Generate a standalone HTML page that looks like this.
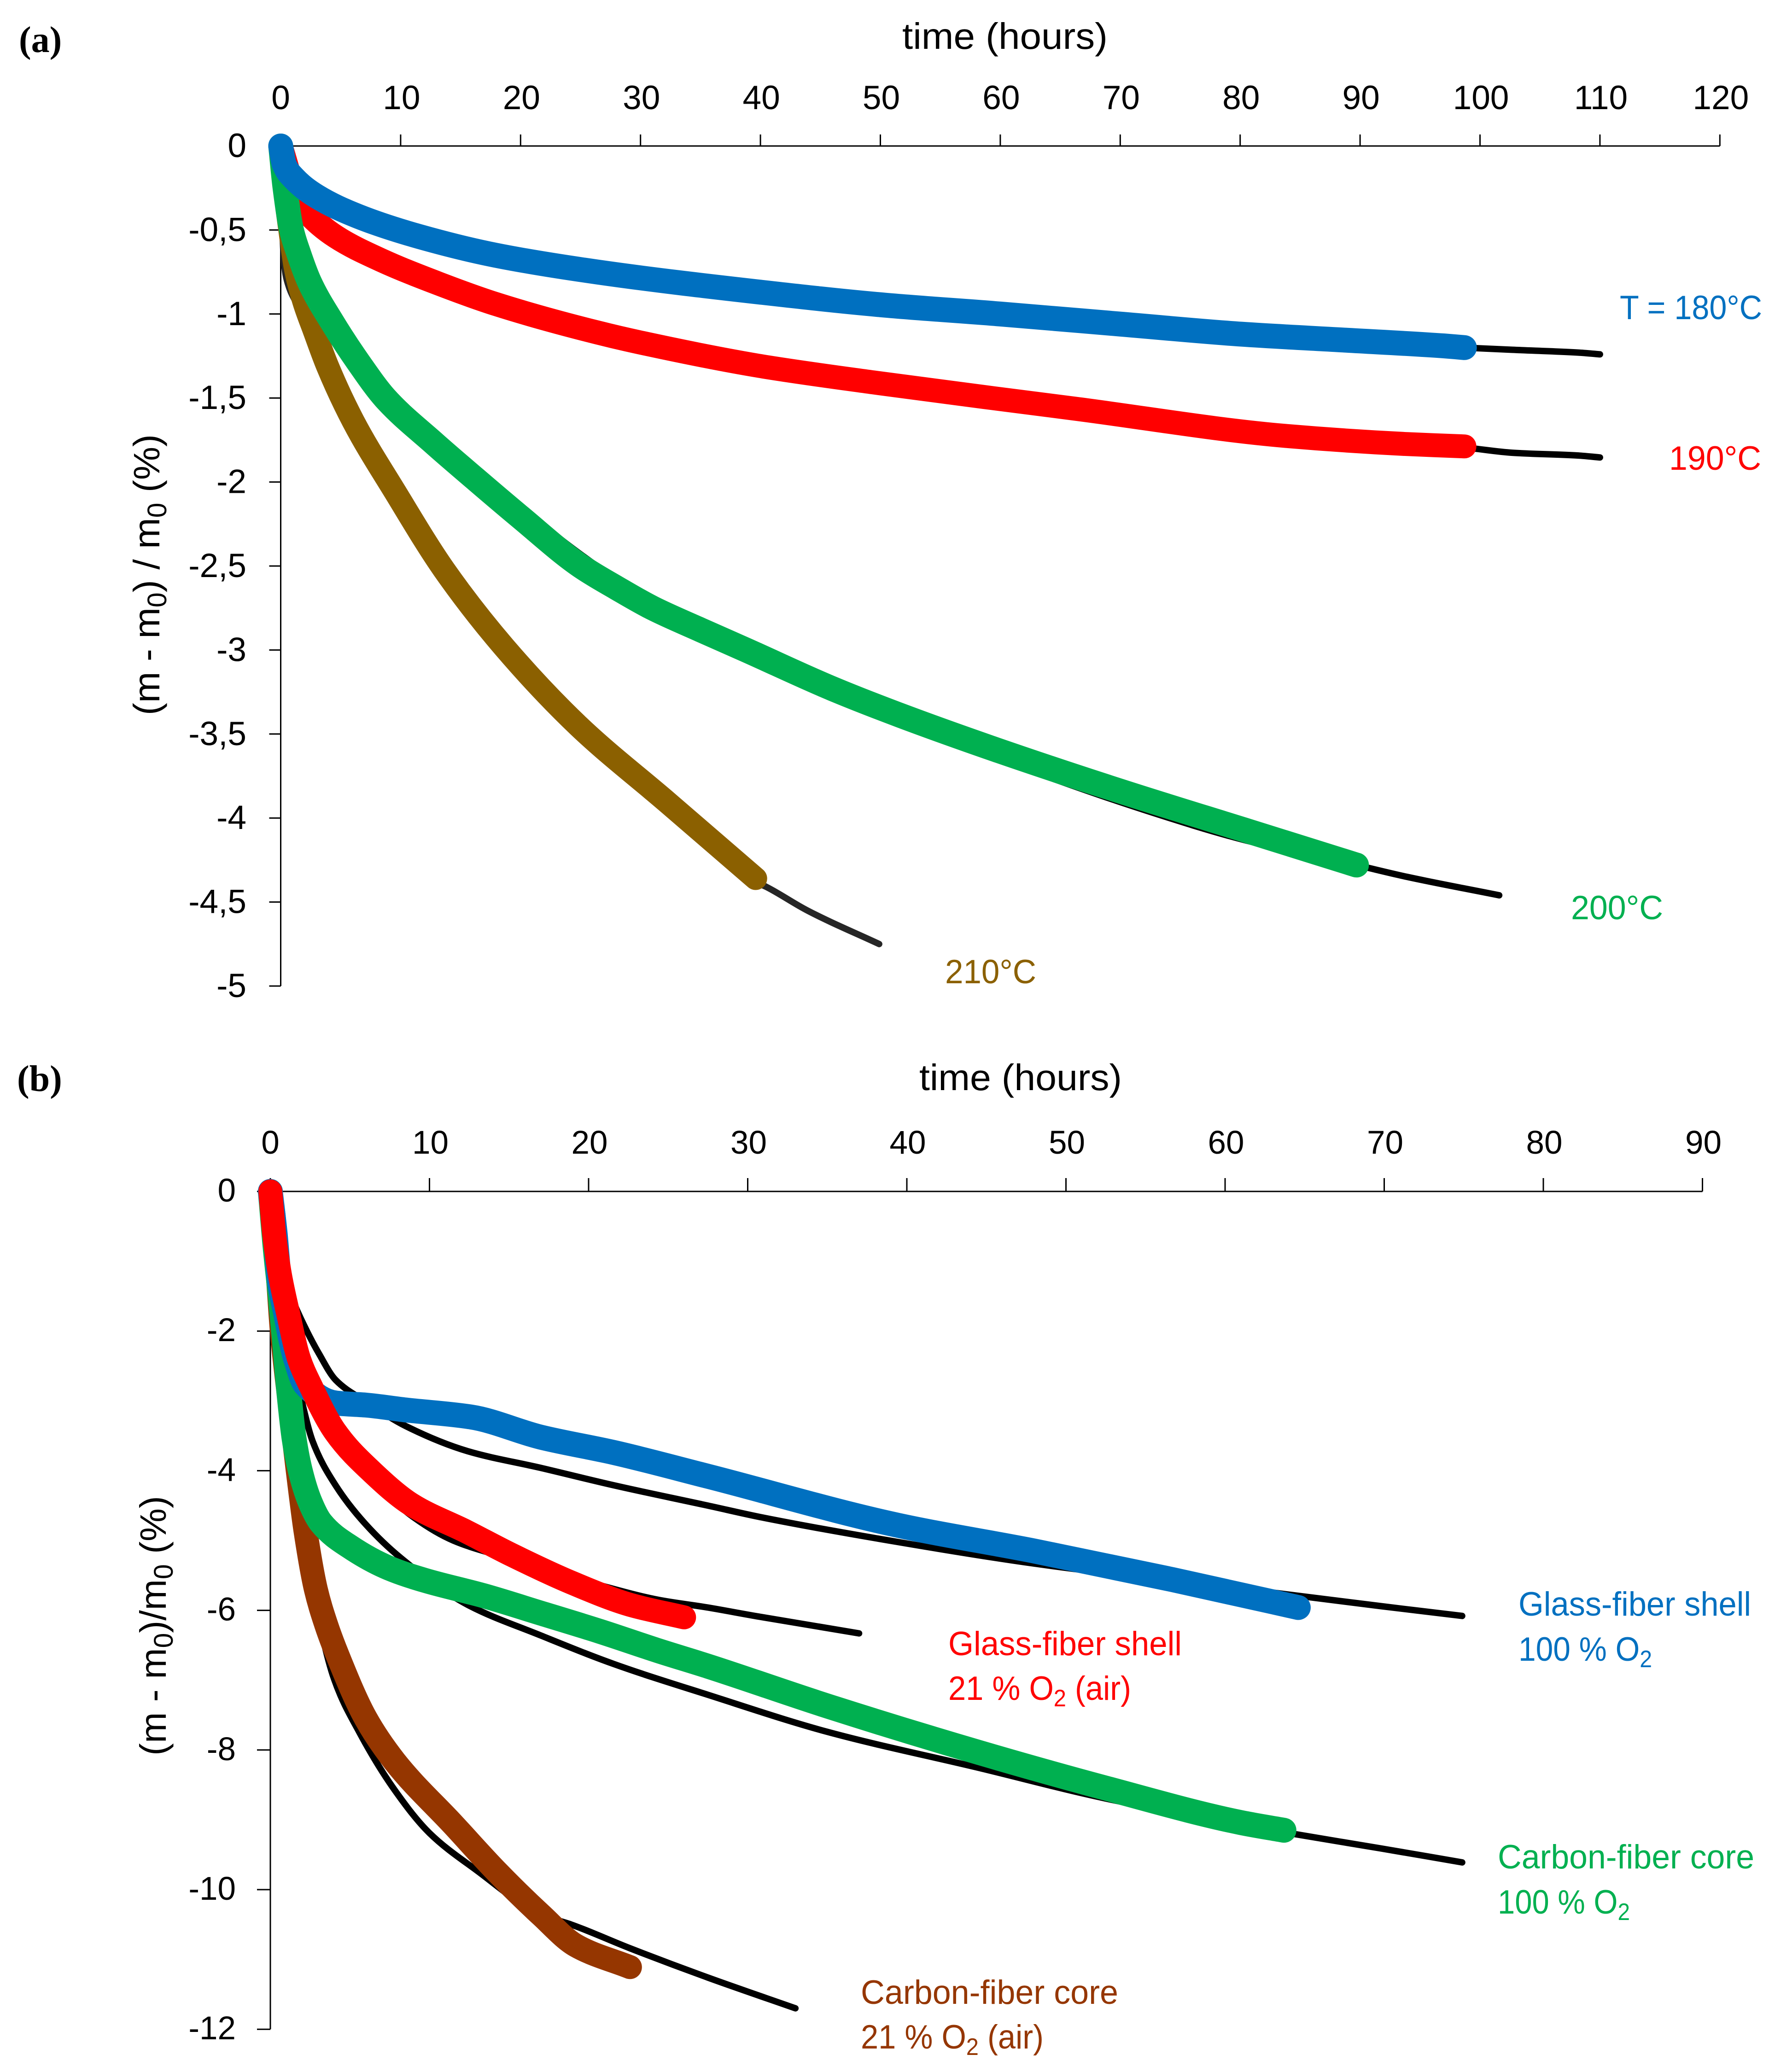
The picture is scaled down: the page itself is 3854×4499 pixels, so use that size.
<!DOCTYPE html>
<html lang="en">
<head>
<meta charset="utf-8">
<title>Mass loss versus time</title>
<style>
html,body{margin:0;padding:0;background:#fff}
svg{display:block}
text{font-family:"Liberation Sans",sans-serif}
.p{font-family:"Liberation Serif",serif;font-weight:bold;font-size:80px}
</style>
</head>
<body>
<svg id="chart" xmlns="http://www.w3.org/2000/svg" width="3854" height="4499" viewBox="0 0 3854 4499">
<rect width="3854" height="4499" fill="#fff"/>
<text class="p" x="41" y="113">(a)</text>
<text class="p" x="37" y="2369">(b)</text>
<text x="1959" y="106" font-size="80" textLength="446" lengthAdjust="spacingAndGlyphs">time (hours)</text>
<text x="1996" y="2367" font-size="80" textLength="440" lengthAdjust="spacingAndGlyphs">time (hours)</text>
<g id="a"></g>
<g id="b"></g>
<text transform="translate(346 1553) rotate(-90)" font-size="80" textLength="610" lengthAdjust="spacingAndGlyphs">(m - m<tspan dy="15" font-size="58">0</tspan><tspan dy="-15">) / m</tspan><tspan dy="15" font-size="58">0</tspan><tspan dy="-15"> (%)</tspan></text>
<text transform="translate(360 3812) rotate(-90)" font-size="80" textLength="564" lengthAdjust="spacingAndGlyphs">(m - m<tspan dy="15" font-size="58">0</tspan><tspan dy="-15">)/m</tspan><tspan dy="15" font-size="58">0</tspan><tspan dy="-15"> (%)</tspan></text>
<text x="3517" y="693" font-size="73" fill="#0070C0" textLength="309" lengthAdjust="spacingAndGlyphs">T = 180°C</text>
<text x="3624" y="1020" font-size="73" fill="#FF0000" textLength="200" lengthAdjust="spacingAndGlyphs">190°C</text>
<text x="3411" y="1996" font-size="73" fill="#00B050" textLength="200" lengthAdjust="spacingAndGlyphs">200°C</text>
<text x="2052" y="2135" font-size="73" fill="#8B6000" textLength="198" lengthAdjust="spacingAndGlyphs">210°C</text>
<text x="3297" y="3508" font-size="73" fill="#0070C0" textLength="505" lengthAdjust="spacingAndGlyphs">Glass-fiber shell</text>
<text x="3297" y="3606" font-size="73" fill="#0070C0" textLength="290" lengthAdjust="spacingAndGlyphs">100 % O<tspan dy="14" font-size="52">2</tspan></text>
<text x="2059" y="3594" font-size="73" fill="#FF0000" textLength="507" lengthAdjust="spacingAndGlyphs">Glass-fiber shell</text>
<text x="2059" y="3691" font-size="73" fill="#FF0000" textLength="397" lengthAdjust="spacingAndGlyphs">21 % O<tspan dy="14" font-size="52">2</tspan><tspan dy="-14"> (air)</tspan></text>
<text x="3252" y="4057" font-size="73" fill="#00B050" textLength="557" lengthAdjust="spacingAndGlyphs">Carbon-fiber core</text>
<text x="3252" y="4155" font-size="73" fill="#00B050" textLength="287" lengthAdjust="spacingAndGlyphs">100 % O<tspan dy="14" font-size="52">2</tspan></text>
<text x="1869" y="4351" font-size="73" fill="#953600" textLength="559" lengthAdjust="spacingAndGlyphs">Carbon-fiber core</text>
<text x="1869" y="4448" font-size="73" fill="#953600" textLength="397" lengthAdjust="spacingAndGlyphs">21 % O<tspan dy="14" font-size="52">2</tspan><tspan dy="-14"> (air)</tspan></text>
</svg>
<script>
// Tick labels
const xTicksA = [0,10,20,30,40,50,60,70,80,90,100,110,120];
const yTicksA = [0,-0.5,-1,-1.5,-2,-2.5,-3,-3.5,-4,-4.5,-5];
const xTicksB = [0,10,20,30,40,50,60,70,80,90];
const yTicksB = [0,-2,-4,-6,-8,-10,-12];

// Panel (a) measured data
const t180 = [0,0.3,1.07,3,6.5,11.6,17.9,26.4,40,50,60,70,80.1,88.6,97,98.7];
const v180 = [0,-0.11,-0.19,-0.3,-0.42,-0.54,-0.65,-0.75,-0.87,-0.945,-1.0,-1.06,-1.12,-1.155,-1.19,-1.2];
const t180f = [0,0.3,1.07,3,6.5,11.6,17.9,26.4,50,80.1,98.7,102.7,108.3,110];
const v180f = [0,-0.11,-0.19,-0.3,-0.42,-0.54,-0.65,-0.75,-0.945,-1.12,-1.2,-1.213,-1.23,-1.24];
const t190 = [0,1.4,2.4,4.6,8.4,13.2,17.9,26.4,30,40,49.4,66.5,83.7,93.9,98.7];
const v190 = [0,-0.31,-0.41,-0.54,-0.68,-0.82,-0.94,-1.11,-1.17,-1.31,-1.407,-1.566,-1.725,-1.774,-1.788];
const t190f = [0,1.4,2.4,4.6,8.4,13.2,17.9,26.4,40,49.4,66.5,83.7,98.7,102.7,108.3,110];
const v190f = [0,-0.31,-0.41,-0.53,-0.64,-0.78,-0.91,-1.11,-1.31,-1.41,-1.57,-1.73,-1.795,-1.826,-1.843,-1.854];
const t200 = [0,0.36,0.9,1.5,2.4,4.3,6.5,8.7,12.8,16.2,20,25,28,31,35,38.8,46,51.7,59.7,70,80.3,89.7];
const v200 = [0,-0.25,-0.5,-0.64,-0.81,-1.05,-1.29,-1.5,-1.77,-1.98,-2.21,-2.5,-2.63,-2.75,-2.88,-3,-3.23,-3.39,-3.595,-3.84,-4.07,-4.28];
const t200f = [0,0.36,0.9,1.5,2.4,4.3,6.5,8.7,12.8,16.2,20,25,31,38.8,49.4,56.3,63,71.7,80.3,89.7,93.9,101.6];
const v200f = [0,-0.25,-0.5,-0.64,-0.81,-1.05,-1.27,-1.45,-1.71,-1.92,-2.15,-2.43,-2.72,-3,-3.38,-3.55,-3.73,-3.945,-4.13,-4.28,-4.35,-4.46];
const t210 = [0,0.4,0.8,1.2,1.9,2.8,3.9,6.06,9.55,13.6,18.6,24.8,32.3,39.6];
const v210 = [0,-0.3,-0.52,-0.72,-0.92,-1.1,-1.31,-1.64,-2.06,-2.52,-2.98,-3.45,-3.91,-4.36];
const t210f = [0,0.1,0.3,0.6,1.2,1.9,2.8,3.9,6.06,9.55,13.6,18.6,24.8,32.3,39.6,40.5,43.9,49.9];
const v210f = [0,-0.4,-0.71,-0.82,-0.92,-1,-1.12,-1.31,-1.64,-2.06,-2.52,-2.98,-3.5,-3.97,-4.38,-4.41,-4.55,-4.75];

// Panel (b) measured data
const tGlassO2 = [0,0.3,0.58,0.95,1.33,1.59,2.2,4.1,6,8.5,12.6,17,21.6,27.5,39.4,48,56.7,64.6];
const vGlassO2 = [0,-0.6,-1.3,-1.73,-2.17,-2.4,-2.77,-3.03,-3.06,-3.13,-3.23,-3.52,-3.74,-4.08,-4.78,-5.15,-5.56,-5.96];
const tGlassO2f = [0,0.5,1.3,2.1,3.07,4.1,6,8.5,12.4,17,21.6,27.5,30.7,39.4,48,62.8,69.8,74.9];
const vGlassO2f = [0,-1,-1.5,-1.91,-2.33,-2.7,-3.01,-3.36,-3.72,-3.96,-4.21,-4.5,-4.66,-5.02,-5.33,-5.74,-5.94,-6.08];
const tGlassAir = [0,0.25,0.6,1.1,1.8,2.5,4.1,6.4,8.9,12.3,15.2,18.9,22.6,26];
const vGlassAir = [0,-0.63,-1.19,-1.73,-2.4,-2.77,-3.45,-4.02,-4.49,-4.87,-5.21,-5.6,-5.92,-6.1];
const tGlassAirf = [0,0.25,0.6,1.1,1.8,2.5,4.1,6.4,8.9,11.5,15.2,20.7,24.4,27.5,30.7,37];
const vGlassAirf = [0,-0.63,-1.19,-1.73,-2.4,-2.8,-3.52,-4.12,-4.65,-5,-5.27,-5.64,-5.85,-5.96,-6.09,-6.33];
const tCarbonO2 = [0,0.3,0.6,0.87,1.16,1.5,1.88,2.5,3.2,5,7.5,9.7,13.4,17,20.7,24.4,27.5,35,44.6,52.4,61,63.7];
const vCarbonO2 = [0,-0.8,-1.45,-2.1,-2.87,-3.55,-4,-4.45,-4.75,-5.09,-5.4,-5.57,-5.79,-6.04,-6.3,-6.58,-6.8,-7.37,-8.04,-8.54,-9.04,-9.15];
const tCarbonO2f = [0,0.5,1.2,1.85,2.66,4.1,6,8.2,12.4,17,21.6,27.5,35,44.6,52.4,64,69.8,74.9];
const vCarbonO2f = [0,-1.3,-2.2,-2.88,-3.58,-4.21,-4.77,-5.25,-5.92,-6.36,-6.77,-7.21,-7.74,-8.26,-8.69,-9.19,-9.41,-9.61];
const tCarbonAir = [0,0.23,0.5,0.72,1.2,1.7,2.2,2.86,3.5,4.2,6,7.8,11.5,14.3,17,19.2,22.6];
const vCarbonAir = [0,-0.4,-1.3,-2,-3,-3.96,-4.85,-5.7,-6.2,-6.63,-7.55,-8.16,-9.07,-9.76,-10.36,-10.8,-11.11];
const tCarbonAirf = [0,0.5,1.5,2.5,4,5.6,7.8,10,13,17,18.9,22.6,27.5,33];
const vCarbonAirf = [0,-2,-4,-5.5,-6.98,-7.75,-8.57,-9.19,-9.73,-10.36,-10.5,-10.84,-11.26,-11.7];

const NS = 'http://www.w3.org/2000/svg';
const AXIS_WIDTH = 3;

function scale(origin, pxPerUnit) {
  return function (v) { return origin + v * pxPerUnit; };
}
// Monotone cubic interpolation through the measured points
function pathFor(ts, vs, X, Y) {
  const x = ts.map(X), y = vs.map(Y), n = x.length;
  const h = [], s = [], m = [];
  for (let i = 0; i < n - 1; i++) {
    h[i] = x[i + 1] - x[i];
    s[i] = (y[i + 1] - y[i]) / h[i];
  }
  m[0] = s[0];
  m[n - 1] = s[n - 2];
  for (let i = 1; i < n - 1; i++) {
    if (s[i - 1] * s[i] <= 0) { m[i] = 0; continue; }
    const w1 = 2 * h[i] + h[i - 1], w2 = h[i] + 2 * h[i - 1];
    m[i] = (w1 + w2) / (w1 / s[i - 1] + w2 / s[i]);
  }
  let d = 'M' + x[0].toFixed(1) + ' ' + y[0].toFixed(1);
  for (let i = 0; i < n - 1; i++) {
    const c1x = x[i] + h[i] / 3, c1y = y[i] + m[i] * h[i] / 3;
    const c2x = x[i + 1] - h[i] / 3, c2y = y[i + 1] - m[i + 1] * h[i] / 3;
    d += 'C' + c1x.toFixed(1) + ' ' + c1y.toFixed(1) + ' ' + c2x.toFixed(1) + ' ' + c2y.toFixed(1) + ' ' + x[i + 1].toFixed(1) + ' ' + y[i + 1].toFixed(1);
  }
  return d;
}
function drawAxes(g, X, Y, xTicks, yTicks, fontSize, xBase, yEnd, yOff, tickLen) {
  const xLine = document.createElementNS(NS, 'line');
  
  
  xLine.setAttribute('x1', X(xTicks[0]));
  xLine.setAttribute('x2', X(xTicks[xTicks.length - 1]));
  xLine.setAttribute('y1', Y(0));
  xLine.setAttribute('y2', Y(0));
  xLine.setAttribute('stroke', '#000');
  xLine.setAttribute('stroke-width', AXIS_WIDTH);
  g.appendChild(xLine);
  const yLine = document.createElementNS(NS, 'line');
  
  
  yLine.setAttribute('x1', X(0));
  yLine.setAttribute('x2', X(0));
  yLine.setAttribute('y1', Y(0));
  yLine.setAttribute('y2', Y(yTicks[yTicks.length - 1]));
  yLine.setAttribute('stroke', '#000');
  yLine.setAttribute('stroke-width', AXIS_WIDTH);
  g.appendChild(yLine);
  xTicks.forEach(function (t) {
    const tick = document.createElementNS(NS, 'line');
    
    
    tick.setAttribute('x1', X(t));
    tick.setAttribute('x2', X(t));
    tick.setAttribute('y1', Y(0));
    tick.setAttribute('y2', Y(0) - tickLen);
    tick.setAttribute('stroke', '#000');
    tick.setAttribute('stroke-width', AXIS_WIDTH);
    g.appendChild(tick);
    const lab = document.createElementNS(NS, 'text');
    
    
    lab.setAttribute('x', X(t) + (t === 0 ? 0 : 2));
    lab.setAttribute('y', xBase);
    lab.setAttribute('text-anchor', 'middle');
    lab.setAttribute('font-size', fontSize);
    lab.textContent = String(t);
    g.appendChild(lab);
  });
  yTicks.forEach(function (v) {
    const tick = document.createElementNS(NS, 'line');
    
    
    tick.setAttribute('x1', X(0));
    tick.setAttribute('x2', X(0) - tickLen);
    tick.setAttribute('y1', Y(v));
    tick.setAttribute('y2', Y(v));
    tick.setAttribute('stroke', '#000');
    tick.setAttribute('stroke-width', AXIS_WIDTH);
    g.appendChild(tick);
    const lab = document.createElementNS(NS, 'text');
    
    
    lab.setAttribute('x', yEnd);
    lab.setAttribute('y', Y(v) + yOff);
    lab.setAttribute('text-anchor', 'end');
    lab.setAttribute('font-size', fontSize);
    lab.textContent = String(v).replace('.', ',');
    g.appendChild(lab);
  });
}
function drawSeries(g, name, ts, vs, X, Y, color, width) {
  const path = document.createElementNS(NS, 'path');
  
  
  path.setAttribute('d', pathFor(ts, vs, X, Y));
  path.setAttribute('fill', 'none');
  path.setAttribute('stroke', color);
  path.setAttribute('stroke-width', width);
  path.setAttribute('stroke-linecap', 'round');
  path.setAttribute('stroke-linejoin', 'round');
  g.appendChild(path);
}

// Panel (a)
const gA = document.getElementById('a');


const xA = scale(609.5, 26.04);
const yA = scale(317, -364.8);
drawAxes(gA, xA, yA, xTicksA, yTicksA, 73, 237, 535, 24, 25);
drawSeries(gA, 'fit-210c', t210f, v210f, xA, yA, '#262626', 14);
drawSeries(gA, 'fit-200c', t200f, v200f, xA, yA, '#000', 14);
drawSeries(gA, 'fit-190c', t190f, v190f, xA, yA, '#000', 14);
drawSeries(gA, 'fit-180c', t180f, v180f, xA, yA, '#000', 14);
drawSeries(gA, 'series-210c', t210, v210, xA, yA, '#8B6000', 50);
drawSeries(gA, 'series-190c', t190, v190, xA, yA, '#FF0000', 52);
drawSeries(gA, 'series-200c', t200, v200, xA, yA, '#00B050', 54);
drawSeries(gA, 'series-180c', t180, v180, xA, yA, '#0070C0', 54);

// Panel (b)
const gB = document.getElementById('b');


const xB = scale(587, 34.55);
const yB = scale(2587, -151.6);
drawAxes(gB, xB, yB, xTicksB, yTicksB, 71, 2505, 512, 22, 29);
drawSeries(gB, 'fit-carbon-core-air', tCarbonAirf, vCarbonAirf, xB, yB, '#000', 14);
drawSeries(gB, 'fit-carbon-core-oxygen', tCarbonO2f, vCarbonO2f, xB, yB, '#000', 14);
drawSeries(gB, 'fit-glass-shell-air', tGlassAirf, vGlassAirf, xB, yB, '#000', 14);
drawSeries(gB, 'fit-glass-shell-oxygen', tGlassO2f, vGlassO2f, xB, yB, '#000', 14);
drawSeries(gB, 'series-carbon-core-air', tCarbonAir, vCarbonAir, xB, yB, '#953600', 52);
drawSeries(gB, 'series-carbon-core-oxygen', tCarbonO2, vCarbonO2, xB, yB, '#00B050', 54);
drawSeries(gB, 'series-glass-shell-oxygen', tGlassO2, vGlassO2, xB, yB, '#0070C0', 54);
drawSeries(gB, 'series-glass-shell-air', tGlassAir, vGlassAir, xB, yB, '#FF0000', 52);
</script>
</body>
</html>
